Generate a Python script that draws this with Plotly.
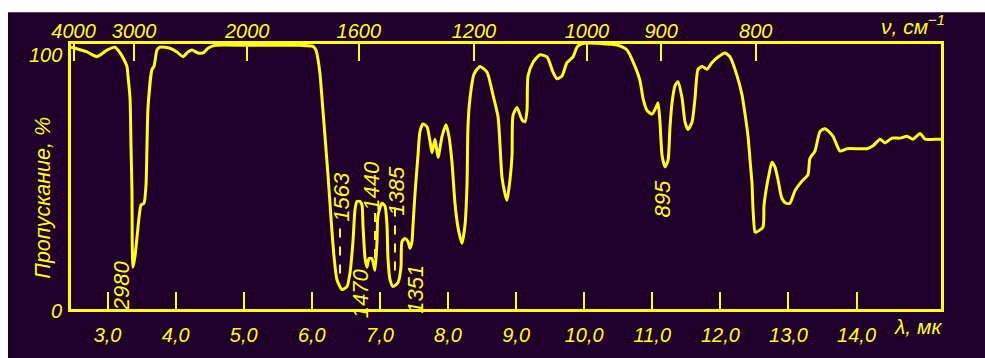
import plotly.graph_objects as go

# ---- data ----
wavelength_um = [2.463, 2.522, 2.698, 2.845, 2.992, 3.109, 3.153, 3.227, 3.285, 3.300, 3.330, 3.344, 3.359, 3.362, 3.373,
                 3.403, 3.433, 3.462, 3.491, 3.535, 3.565, 3.579, 3.594, 3.653, 3.682, 3.726, 3.770, 3.917, 4.02, 4.108,
                 4.181, 4.240, 4.328, 4.402, 4.475, 4.578, 5.092, 5.826, 6.017, 6.061, 6.091, 6.12, 6.149, 6.193, 6.237,
                 6.281, 6.325, 6.369, 6.443, 6.516, 6.56, 6.604, 6.634, 6.663, 6.707, 6.737, 6.751, 6.781, 6.81, 6.839,
                 6.883, 6.927, 6.957, 6.971, 7.03, 7.074, 7.104, 7.118, 7.148, 7.192, 7.265, 7.309, 7.324, 7.368, 7.412,
                 7.441, 7.471, 7.486, 7.515, 7.559, 7.588, 7.632, 7.691, 7.735, 7.765, 7.809, 7.853, 7.912, 7.97, 8.014,
                 8.058, 8.102, 8.146, 8.205, 8.249, 8.279, 8.293, 8.323, 8.382, 8.47, 8.573, 8.661, 8.735, 8.764, 8.793,
                 8.837, 8.867, 8.911, 8.94, 8.955, 9.014, 9.087, 9.131, 9.16, 9.175, 9.248, 9.351, 9.454, 9.542, 9.601,
                 9.674, 9.748, 9.836, 9.895, 9.968, 10.232, 10.497, 10.629, 10.746, 10.819, 10.863, 10.922, 10.996, 11.054,
                 11.084, 11.113, 11.143, 11.187, 11.231, 11.26, 11.29, 11.334, 11.378, 11.437, 11.481, 11.525, 11.584,
                 11.628, 11.672, 11.731, 11.804, 11.878, 11.966, 12.069, 12.142, 12.245, 12.318, 12.362, 12.406, 12.436,
                 12.465, 12.48, 12.509, 12.53, 12.625, 12.64, 12.669, 12.713, 12.757, 12.801, 12.845, 12.904, 12.963,
                 13.021, 13.095, 13.198, 13.286, 13.315, 13.389, 13.463, 13.536, 13.654, 13.757, 13.86, 14.154, 14.242,
                 14.345, 14.418, 14.521, 14.639, 14.742, 14.83, 14.933, 15.006, 15.183, 15.24]
transmission_pct = [99.3, 98.9, 97.5, 95.7, 98.2, 99.3, 98.2, 95.3, 92.0, 88.4, 80.0, 61.9, 43.7, 25.6, 15.8,
                    20.1, 27.4, 34.7, 39.4, 40.1, 47.3, 61.9, 76.4, 90.9, 92.0, 98.2, 99.3, 98.9, 97.5, 95.7,
                    97.5, 98.2, 97.1, 97.1, 98.9, 100.0, 100.0, 100.0, 99.6, 98.2, 94.6, 89.1, 80.0, 65.5, 50.9,
                    34.7, 20.1, 11.1, 7.4, 8.5, 13.6, 25.6, 37.6, 40.8, 40.8, 39.4, 31.8, 19.4, 15.8, 19.1,
                    19.1, 14.7, 25.6, 35.4, 40.1, 39.0, 31.8, 19.4, 11.1, 8.5, 10.0, 15.8, 25.6, 26.7, 25.6,
                    23.0, 25.6, 31.8, 43.7, 58.3, 67.3, 70.2, 69.1, 63.7, 59.3, 64.4, 57.5, 65.5, 69.9, 65.5,
                    55.7, 40.1, 31.0, 24.9, 31.8, 47.3, 69.1, 80.0, 89.1, 92.0, 89.8, 81.1, 72.8, 61.9, 49.9,
                    43.7, 41.2, 49.2, 58.3, 73.5, 76.4, 71.7, 71.0, 75.3, 88.4, 93.5, 96.4, 95.6, 89.8, 87.3,
                    88.4, 93.5, 95.6, 99.3, 100.7, 100.7, 100.0, 98.2, 92.0, 86.6, 80.0, 75.3, 73.9, 76.4,
                    78.2, 70.9, 58.3, 53.9, 56.4, 69.1, 78.2, 84.7, 86.2, 80.0, 70.9, 68.1, 70.9,
                    80.0, 90.9, 92.0, 90.9, 93.5, 95.6, 97.1, 95.6, 88.4, 81.1, 73.9, 65.5, 56.4,
                    47.3, 37.6, 29.2, 29.2, 31.0, 39.0, 44.8, 50.9, 55.7, 53.9, 49.2, 41.9, 40.1,
                    40.1, 44.8, 48.5, 50.9, 57.1, 59.9, 67.3, 68.4, 65.5, 59.9, 60.8, 60.8, 61.9,
                    64.4, 63.0, 64.8, 64.8, 65.5, 64.4, 66.6, 64.4, 64.4, 64.4]

bottom_tick_vals = [3, 4, 5, 6, 7, 8, 9, 10, 11, 12, 13, 14]
bottom_tick_text = ["3,0", "4,0", "5,0", "6,0", "7,0", "8,0", "9,0", "10,0", "11,0", "12,0", "13,0", "14,0"]
top_tick_vals = [2.5, 3.39, 5.05, 6.69, 8.38, 10.04, 11.13, 12.52]
top_tick_text = ["4000", "3000", "2000", "1600", "1200", "1000", "900", "800"]
y_tick_text = ["0", "100"]

peak_labels = ["2980", "1563", "1440", "1385", "1470", "1351", "895"]
peak_label_x = [3.197, 6.443, 6.883, 7.25, 6.707, 7.53, 11.157]
peak_label_y = [9.0, 42.6, 46.7, 44.8, 6.0, 7.3, 41.9]
dash_x = [6.414, 6.928, 7.221]
dash_y0 = [13.5, 19.3, 14.6]
dash_y1 = [33.9, 39.0, 39.0]

BG = "#20002a"
YEL = "#ffff12"
FONT = "Liberation Sans"

fig = go.Figure()
fig.add_trace(go.Scatter(x=wavelength_um, y=transmission_pct, mode="lines",
                         line=dict(color=YEL, width=3, shape="spline", smoothing=0.6),
                         hoverinfo="skip", showlegend=False))
# trace on the top (wavenumber) axis so that axis is drawn
fig.add_trace(go.Scatter(x=[wavelength_um[0]], y=[transmission_pct[0]], xaxis="x2", mode="lines",
                         line=dict(color=YEL, width=3), showlegend=False, hoverinfo="skip"))

fig.update_layout(
    width=985, height=358,
    margin=dict(l=71, r=44, t=44, b=38),
    paper_bgcolor=BG, plot_bgcolor=BG,
    font=dict(family=FONT, color=YEL, size=20),
    xaxis=dict(range=[2.463, 15.24], tickvals=bottom_tick_vals, ticktext=bottom_tick_text,
               ticks="inside", ticklen=17, tickwidth=2, tickcolor=YEL,
               showline=True, mirror=True, linewidth=3, linecolor=YEL,
               showgrid=False, zeroline=False, ticklabelstandoff=6,
               tickfont=dict(family=FONT, size=20, color=YEL, style="italic")),
    xaxis2=dict(range=[2.463, 15.24], overlaying="x", side="top", anchor="y",
                tickvals=top_tick_vals, ticktext=top_tick_text,
                ticks="inside", ticklen=17, tickwidth=2, tickcolor=YEL,
                showline=False, showgrid=False, zeroline=False, ticklabelstandoff=1,
                tickfont=dict(family=FONT, size=20, color=YEL, style="italic")),
    yaxis=dict(range=[0, 100.5], showline=True, mirror=True, linewidth=3, linecolor=YEL,
               showgrid=False, zeroline=False, showticklabels=False, ticks=""),
)

shapes = [
    dict(type="rect", xref="paper", yref="paper", x0=-0.2, x1=1.2, y0=1.1196, y1=1.3,
         fillcolor="white", line=dict(width=0), layer="above"),
    dict(type="rect", xref="paper", yref="paper", x0=-0.2, x1=-0.0724, y0=-0.3, y1=1.3,
         fillcolor="white", line=dict(width=0), layer="above"),
]
for xv, a, b in zip(dash_x, dash_y0, dash_y1):
    shapes.append(dict(type="line", xref="x", yref="y", x0=xv, x1=xv, y0=a, y1=b,
                       line=dict(color=YEL, width=2, dash="dash")))
fig.update_layout(shapes=shapes)

ital = dict(family=FONT, size=20, color=YEL, style="italic")
ital_big = dict(family=FONT, size=22, color=YEL, style="italic")
ann = []
for t, xv, yv in zip(peak_labels, peak_label_x, peak_label_y):
    ann.append(dict(x=xv, y=yv, xref="x", yref="y", text=t, showarrow=False, textangle=-90,
                    xanchor="center", yanchor="middle", font=ital_big))
# y tick labels
for t, yp in zip(y_tick_text, [-0.009, 0.958]):
    ann.append(dict(x=-0.008, y=yp, xref="paper", yref="paper", text=t, showarrow=False,
                    xanchor="right", yanchor="middle", font=ital))
ann.append(dict(x=-0.0322, y=0.42, xref="paper", yref="paper", text="Пропускание, %",
                showarrow=False, textangle=-90, xanchor="center", yanchor="middle",
                font=dict(family=FONT, size=21.5, color=YEL, style="italic")))
ann.append(dict(x=0.9736, y=-0.0652, xref="paper", yref="paper", text="λ, мк", showarrow=False,
                xanchor="center", yanchor="middle",
                font=dict(family=FONT, size=21, color=YEL, style="italic")))
ann.append(dict(x=0.968, y=1.072, xref="paper", yref="paper", text="ν, см<sup>−1</sup>", showarrow=False,
                xanchor="center", yanchor="middle",
                font=dict(family=FONT, size=21, color=YEL, style="italic")))
fig.update_layout(annotations=ann)

fig.write_html("out.html")
